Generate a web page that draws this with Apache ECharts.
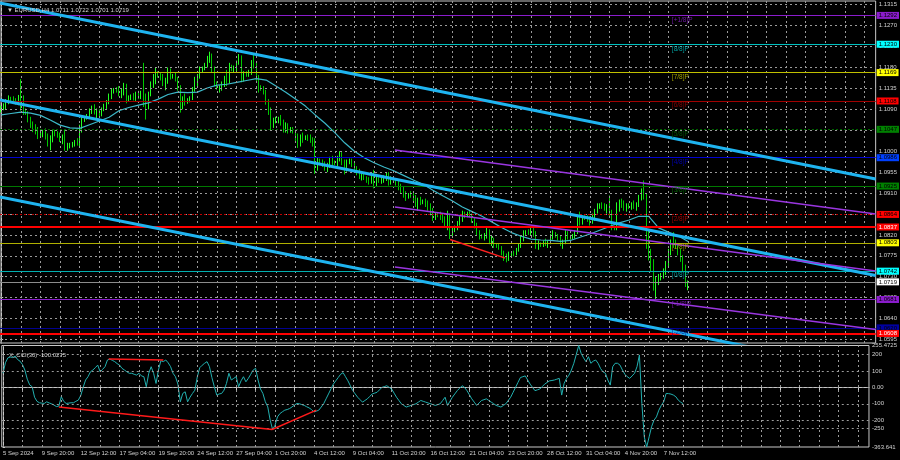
<!DOCTYPE html>
<html><head><meta charset="utf-8">
<script src="https://cdn.jsdelivr.net/npm/echarts@6/dist/echarts.min.js"></script>
<style>html,body{margin:0;padding:0;background:#000;}#c{width:900px;height:460px;}</style>
</head><body><div id="c"></div>
<script>
// ---------------- DATA ----------------
const chartTitle = 'EURUSD,H4 1.0711 1.0722 1.0701 1.0719';
const cciTitle = 'X_CCI(30) -100.0275';
const timeLabels = {0:'5 Sep 2024',16:'9 Sep 20:00',32:'12 Sep 12:00',48:'17 Sep 04:00',64:'19 Sep 20:00',80:'24 Sep 12:00',96:'27 Sep 04:00',112:'1 Oct 20:00',128:'4 Oct 12:00',144:'9 Oct 04:00',160:'11 Oct 20:00',176:'16 Oct 12:00',192:'21 Oct 04:00',208:'23 Oct 20:00',224:'28 Oct 12:00',240:'31 Oct 04:00',256:'4 Nov 20:00',272:'7 Nov 12:00'};
const priceTicks = [1.1315,1.1270,1.1225,1.1180,1.1135,1.1090,1.1045,1.1000,1.0955,1.0910,1.0865,1.0820,1.0775,1.0730,1.0685,1.0640,1.0595];
const cciTicks = [255.4725,200,100,0,-100,-200,-250,-363.641];
const cciTickText = ['255.4725','200','100','0.00','-100','-200','-250','-363.641'];
const cciGridLevels = [200,100,0,-100,-200,-250];
// [open, high, low, close] per H4 bar, from 5 Sep 2024 04:00
const ohlc = [
[1.1090,1.1098,1.1083,1.1094],[1.1094,1.1103,1.1088,1.1099],[1.1099,1.1112,1.1090,1.1107],[1.1107,1.1120,1.1101,1.1113],[1.1113,1.1117,1.1106,1.1110],
[1.1110,1.1118,1.1103,1.1108],[1.1108,1.1114,1.1100,1.1105],[1.1105,1.1121,1.1099,1.1116],[1.1116,1.1155,1.1087,1.1112],[1.1112,1.1120,1.1078,1.1086],[1.1086,1.1092,1.1078,1.1082],
[1.1082,1.1086,1.1062,1.1068],[1.1068,1.1074,1.1050,1.1058],[1.1058,1.1064,1.1041,1.1050],[1.1050,1.1058,1.1036,1.1044],[1.1044,1.1052,1.1026,1.1036],[1.1036,1.1042,1.1030,1.1038],
[1.1038,1.1046,1.1030,1.1042],[1.1042,1.1049,1.1025,1.1031],[1.1031,1.1038,1.1010,1.1018],[1.1018,1.1034,1.1002,1.1027],[1.1027,1.1045,1.1019,1.1039],[1.1039,1.1046,1.1032,1.1036],
[1.1036,1.1043,1.1029,1.1034],[1.1034,1.1040,1.1020,1.1025],[1.1025,1.1036,1.1015,1.1030],[1.1030,1.1047,1.1001,1.1008],[1.1008,1.1018,1.1001,1.1012],[1.1012,1.1018,1.1006,1.1013],
[1.1013,1.1020,1.1008,1.1016],[1.1016,1.1024,1.1010,1.1020],[1.1020,1.1028,1.1012,1.1018],[1.1018,1.1057,1.1010,1.1050],[1.1050,1.1075,1.1040,1.1070],[1.1070,1.1076,1.1063,1.1074],
[1.1074,1.1080,1.1068,1.1076],[1.1076,1.1092,1.1072,1.1088],[1.1088,1.1098,1.1080,1.1094],[1.1094,1.1101,1.1079,1.1083],[1.1083,1.1092,1.1070,1.1086],[1.1086,1.1090,1.1074,1.1078],
[1.1078,1.1094,1.1075,1.1090],[1.1090,1.1102,1.1086,1.1097],[1.1097,1.1110,1.1091,1.1106],[1.1106,1.1124,1.1101,1.1119],[1.1119,1.1135,1.1112,1.1128],[1.1128,1.1136,1.1124,1.1132],
[1.1132,1.1138,1.1126,1.1130],[1.1130,1.1140,1.1118,1.1124],[1.1124,1.1134,1.1114,1.1129],[1.1129,1.1147,1.1120,1.1141],[1.1141,1.1145,1.1103,1.1111],[1.1111,1.1120,1.1107,1.1116],
[1.1116,1.1122,1.1110,1.1118],[1.1118,1.1125,1.1109,1.1113],[1.1113,1.1128,1.1108,1.1124],[1.1124,1.1130,1.1112,1.1118],[1.1118,1.1130,1.1112,1.1124],[1.1124,1.1190,1.1095,1.1116],
[1.1116,1.1124,1.1068,1.1098],[1.1098,1.1128,1.1090,1.1122],[1.1122,1.1150,1.1118,1.1145],[1.1145,1.1166,1.1136,1.1150],[1.1150,1.1179,1.1144,1.1168],[1.1168,1.1172,1.1158,1.1161],
[1.1161,1.1168,1.1152,1.1160],[1.1160,1.1166,1.1140,1.1148],[1.1148,1.1158,1.1131,1.1153],[1.1153,1.1180,1.1145,1.1172],[1.1172,1.1178,1.1154,1.1160],[1.1160,1.1166,1.1156,1.1163],
[1.1163,1.1170,1.1150,1.1156],[1.1156,1.1160,1.1130,1.1136],[1.1136,1.1142,1.1083,1.1100],[1.1100,1.1118,1.1090,1.1112],[1.1112,1.1124,1.1098,1.1108],[1.1108,1.1114,1.1102,1.1110],
[1.1110,1.1118,1.1105,1.1114],[1.1114,1.1138,1.1110,1.1134],[1.1134,1.1160,1.1128,1.1152],[1.1152,1.1166,1.1140,1.1160],[1.1160,1.1182,1.1156,1.1176],[1.1176,1.1182,1.1170,1.1178],
[1.1178,1.1190,1.1174,1.1186],[1.1186,1.1205,1.1180,1.1198],[1.1198,1.1214,1.1190,1.1204],[1.1204,1.1210,1.1170,1.1176],[1.1176,1.1182,1.1140,1.1146],[1.1146,1.1150,1.1132,1.1134],
[1.1134,1.1142,1.1126,1.1138],[1.1138,1.1150,1.1130,1.1145],[1.1145,1.1162,1.1138,1.1156],[1.1156,1.1175,1.1140,1.1150],[1.1150,1.1190,1.1146,1.1180],[1.1180,1.1186,1.1172,1.1177],
[1.1177,1.1184,1.1170,1.1180],[1.1180,1.1195,1.1172,1.1190],[1.1190,1.1209,1.1186,1.1200],[1.1200,1.1206,1.1148,1.1156],[1.1156,1.1172,1.1150,1.1168],[1.1168,1.1172,1.1160,1.1164],
[1.1164,1.1175,1.1160,1.1170],[1.1170,1.1196,1.1164,1.1190],[1.1190,1.1209,1.1178,1.1182],[1.1182,1.1190,1.1150,1.1158],[1.1158,1.1164,1.1126,1.1136],[1.1136,1.1142,1.1130,1.1135],
[1.1135,1.1140,1.1122,1.1128],[1.1128,1.1132,1.1100,1.1106],[1.1106,1.1112,1.1078,1.1085],[1.1085,1.1094,1.1045,1.1058],[1.1058,1.1072,1.1050,1.1066],[1.1066,1.1074,1.1060,1.1067],
[1.1067,1.1074,1.1060,1.1070],[1.1070,1.1078,1.1055,1.1060],[1.1060,1.1068,1.1040,1.1048],[1.1048,1.1062,1.1040,1.1055],[1.1055,1.1060,1.1038,1.1044],[1.1044,1.1052,1.1040,1.1047],
[1.1047,1.1052,1.1038,1.1041],[1.1041,1.1046,1.1020,1.1026],[1.1026,1.1038,1.1007,1.1016],[1.1016,1.1036,1.1010,1.1030],[1.1030,1.1040,1.1018,1.1028],[1.1028,1.1034,1.1024,1.1031],
[1.1031,1.1036,1.1022,1.1030],[1.1030,1.1036,1.1018,1.1024],[1.1024,1.1030,1.1010,1.1015],[1.1015,1.1028,1.0951,1.0966],[1.0966,1.0986,1.0958,1.0980],[1.0980,1.0984,1.0970,1.0975],
[1.0975,1.0982,1.0966,1.0972],[1.0972,1.0978,1.0958,1.0964],[1.0964,1.0975,1.0955,1.0970],[1.0970,1.0988,1.0964,1.0982],[1.0982,1.0990,1.0970,1.0976],[1.0976,1.0980,1.0970,1.0974],
[1.0974,1.0990,1.0968,1.0985],[1.0985,1.1000,1.0978,1.0994],[1.0994,1.0998,1.0970,1.0976],[1.0976,1.0982,1.0950,1.0962],[1.0962,1.0982,1.0956,1.0978],[1.0978,1.0984,1.0972,1.0978],
[1.0978,1.0984,1.0966,1.0972],[1.0972,1.0978,1.0955,1.0960],[1.0960,1.0968,1.0948,1.0954],[1.0954,1.0962,1.0940,1.0946],[1.0946,1.0956,1.0937,1.0950],[1.0950,1.0953,1.0938,1.0940],
[1.0940,1.0946,1.0932,1.0938],[1.0938,1.0944,1.0928,1.0934],[1.0934,1.0952,1.0930,1.0946],[1.0946,1.0960,1.0920,1.0928],[1.0928,1.0948,1.0924,1.0940],[1.0940,1.0944,1.0932,1.0936],
[1.0936,1.0944,1.0930,1.0940],[1.0940,1.0948,1.0932,1.0944],[1.0944,1.0954,1.0936,1.0950],[1.0950,1.0955,1.0926,1.0932],[1.0932,1.0946,1.0928,1.0940],[1.0940,1.0944,1.0934,1.0937],
[1.0937,1.0942,1.0926,1.0930],[1.0930,1.0936,1.0916,1.0922],[1.0922,1.0930,1.0910,1.0918],[1.0918,1.0924,1.0900,1.0906],[1.0906,1.0914,1.0893,1.0902],[1.0902,1.0910,1.0898,1.0908],
[1.0908,1.0914,1.0900,1.0904],[1.0904,1.0912,1.0892,1.0898],[1.0898,1.0906,1.0880,1.0888],[1.0888,1.0900,1.0872,1.0896],[1.0896,1.0902,1.0884,1.0890],[1.0890,1.0896,1.0886,1.0892],
[1.0892,1.0898,1.0880,1.0886],[1.0886,1.0894,1.0872,1.0880],[1.0880,1.0888,1.0862,1.0870],[1.0870,1.0878,1.0850,1.0858],[1.0858,1.0868,1.0852,1.0864],[1.0864,1.0868,1.0858,1.0862],
[1.0862,1.0870,1.0852,1.0858],[1.0858,1.0866,1.0846,1.0852],[1.0852,1.0860,1.0836,1.0842],[1.0842,1.0872,1.0830,1.0860],[1.0860,1.0866,1.0811,1.0822],[1.0822,1.0836,1.0818,1.0832],
[1.0832,1.0840,1.0826,1.0836],[1.0836,1.0850,1.0830,1.0846],[1.0846,1.0860,1.0840,1.0854],[1.0854,1.0872,1.0848,1.0864],[1.0864,1.0870,1.0856,1.0862],[1.0862,1.0870,1.0858,1.0867],
[1.0867,1.0872,1.0858,1.0862],[1.0862,1.0866,1.0846,1.0850],[1.0850,1.0856,1.0834,1.0840],[1.0840,1.0846,1.0818,1.0824],[1.0824,1.0830,1.0810,1.0818],[1.0818,1.0822,1.0812,1.0816],
[1.0816,1.0824,1.0808,1.0820],[1.0820,1.0835,1.0812,1.0826],[1.0826,1.0832,1.0800,1.0806],[1.0806,1.0818,1.0796,1.0810],[1.0810,1.0814,1.0792,1.0798],[1.0798,1.0802,1.0792,1.0797],
[1.0797,1.0802,1.0788,1.0792],[1.0792,1.0796,1.0776,1.0780],[1.0780,1.0786,1.0764,1.0772],[1.0772,1.0780,1.0761,1.0768],[1.0768,1.0784,1.0764,1.0778],[1.0778,1.0784,1.0774,1.0781],
[1.0781,1.0786,1.0774,1.0780],[1.0780,1.0792,1.0776,1.0788],[1.0788,1.0802,1.0784,1.0798],[1.0798,1.0818,1.0792,1.0812],[1.0812,1.0830,1.0806,1.0824],[1.0824,1.0830,1.0820,1.0827],
[1.0827,1.0832,1.0820,1.0824],[1.0824,1.0836,1.0818,1.0830],[1.0830,1.0836,1.0816,1.0822],[1.0822,1.0828,1.0790,1.0798],[1.0798,1.0808,1.0788,1.0800],[1.0800,1.0804,1.0794,1.0797],
[1.0797,1.0808,1.0794,1.0804],[1.0804,1.0812,1.0796,1.0800],[1.0800,1.0808,1.0792,1.0804],[1.0804,1.0822,1.0800,1.0816],[1.0816,1.0830,1.0810,1.0824],[1.0824,1.0826,1.0814,1.0817],
[1.0817,1.0822,1.0808,1.0812],[1.0812,1.0818,1.0796,1.0802],[1.0802,1.0810,1.0790,1.0806],[1.0806,1.0830,1.0800,1.0824],[1.0824,1.0828,1.0810,1.0814],[1.0814,1.0820,1.0810,1.0816],
[1.0816,1.0822,1.0810,1.0818],[1.0818,1.0830,1.0812,1.0826],[1.0826,1.0862,1.0822,1.0856],[1.0856,1.0870,1.0840,1.0848],[1.0848,1.0862,1.0842,1.0858],[1.0858,1.0862,1.0852,1.0856],
[1.0856,1.0862,1.0848,1.0854],[1.0854,1.0860,1.0840,1.0848],[1.0848,1.0866,1.0844,1.0862],[1.0862,1.0876,1.0850,1.0870],[1.0870,1.0888,1.0866,1.0880],[1.0880,1.0888,1.0876,1.0884],
[1.0884,1.0890,1.0876,1.0882],[1.0882,1.0888,1.0872,1.0876],[1.0876,1.0886,1.0866,1.0878],[1.0878,1.0905,1.0860,1.0870],[1.0870,1.0874,1.0830,1.0836],[1.0836,1.0840,1.0830,1.0833],
[1.0833,1.0890,1.0830,1.0880],[1.0880,1.0896,1.0870,1.0890],[1.0890,1.0898,1.0878,1.0884],[1.0884,1.0894,1.0872,1.0880],[1.0880,1.0888,1.0870,1.0884],[1.0884,1.0888,1.0876,1.0881],
[1.0881,1.0890,1.0874,1.0886],[1.0886,1.0894,1.0876,1.0880],[1.0880,1.0890,1.0872,1.0884],[1.0884,1.0906,1.0880,1.0900],[1.0900,1.0920,1.0894,1.0914],[1.0914,1.0937,1.0896,1.0905],
[1.0905,1.0910,1.0790,1.0812],[1.0812,1.0830,1.0765,1.0778],[1.0778,1.0790,1.0740,1.0756],[1.0756,1.0768,1.0700,1.0712],[1.0712,1.0730,1.0682,1.0720],[1.0720,1.0736,1.0712,1.0730],
[1.0730,1.0738,1.0722,1.0734],[1.0734,1.0748,1.0726,1.0742],[1.0742,1.0764,1.0734,1.0756],[1.0756,1.0790,1.0750,1.0782],[1.0782,1.0810,1.0776,1.0804],[1.0804,1.0826,1.0792,1.0800],
[1.0800,1.0810,1.0790,1.0796],[1.0796,1.0800,1.0776,1.0784],[1.0784,1.0790,1.0762,1.0770],[1.0770,1.0776,1.0740,1.0748],[1.0748,1.0756,1.0708,1.0711],[1.0711,1.0722,1.0701,1.0719]
];
// moving average line (bar index, price)
const maPoints = [[0,1.1078],[4,1.1081],[8,1.1084],[12,1.1082],[16,1.1077],[20,1.1067],[24,1.1056],[28,1.1050],[32,1.1049],[36,1.1057],[40,1.1065],[44,1.1073],[48,1.1087],[52,1.1094],[56,1.1099],[60,1.1104],[64,1.1112],[68,1.1122],[72,1.1127],[76,1.1126],[80,1.1127],[84,1.1136],[88,1.1142],[92,1.1144],[96,1.1148],[100,1.1152],[104,1.1156],[108,1.1153],[112,1.1140],[116,1.1127],[120,1.1112],[124,1.1097],[128,1.1078],[132,1.1060],[136,1.1040],[140,1.1018],[144,1.1000],[148,1.0986],[152,1.0975],[156,1.0966],[160,1.0958],[164,1.0948],[168,1.0938],[172,1.0929],[176,1.0916],[180,1.0904],[184,1.0893],[188,1.0880],[192,1.0870],[196,1.0860],[200,1.0848],[204,1.0836],[208,1.0825],[212,1.0817],[216,1.0811],[220,1.0809],[224,1.0808],[228,1.0806],[232,1.0808],[236,1.0815],[240,1.0822],[244,1.0830],[248,1.0838],[252,1.0846],[256,1.0852],[260,1.0860],[264,1.0860],[268,1.0835],[272,1.0826],[276,1.0818],[280,1.0806]];
// CCI(30) per bar
const cci = [86,150,180,185,182,191,170,160,140,106,50,15,4,-60,-85,-94,-96,-98,-88,-95,-100,-108,-117,-114,-57,-85,-98,-96,-94,-94,-85,-78,-50,0,45,65,95,106,120,136,95,110,126,167,173,165,157,145,136,116,106,95,86,86,80,75,86,70,65,4,86,126,86,24,106,163,157,167,150,126,86,65,20,-88,-37,-27,-88,-60,-37,-17,65,120,135,147,157,126,60,4,-47,-40,-37,-17,24,86,45,55,65,4,40,65,34,55,80,106,116,45,-10,-37,-88,-119,-200,-257,-231,-180,-160,-149,-139,-135,-129,-119,-108,-98,
-100,-105,-110,-118,-125,-135,-150,-145,-139,-120,-100,-70,-40,-10,20,40,60,80,90,65,40,10,-20,-40,-60,-75,-90,-80,-70,-55,-40,-35,-30,-15,0,5,10,0,-10,-35,-60,-80,-100,-110,-120,-115,-110,-105,-100,-90,-80,-85,-90,-95,-100,-105,-110,-105,-100,-80,-60,-110,-85,-60,-40,-20,-5,10,0,-20,-45,-70,-90,-110,-95,-80,-75,-70,-80,-90,-100,-110,-115,-120,-110,-100,-80,-60,-30,0,30,60,65,70,45,20,0,-20,-15,-10,5,20,30,40,42,45,50,
55,-47,24,55,75,106,147,200,255,208,180,157,187,147,160,167,147,115,95,86,45,14,126,147,147,136,106,80,65,55,70,86,126,198,-98,-302,-363.6,-302,-240,-200,-180,-139,-110,-88,-37,-38,-41,-47,-57,-78,-90,-100.03];
// Murrey math / horizontal levels
const levelPrices = [1.1292,1.1230,1.1169,1.1108,1.1047,1.0986,1.0925,1.0864,1.0837,1.0803,1.0742,1.0719,1.0681,1.0620,1.0608];
const levelNames  = ['[+1/8]P','[8/8]P','[7/8]P','[6/8]P','[5/8]P','[4/8]P','[3/8]P','[2/8]P','','[1/8]P','[0/8]P','','[-1/8]P','[-2/8]P',''];
const levelNameBar = 273.4;
// trend channels [[barIndex, price], [barIndex, price]]
const blueChannel = [[[-0.5,1.13187],[356.5,1.09402]],[[-0.5,1.11101],[356.5,1.07326]],[[-0.5,1.09015],[356.5,1.05251]]];
const purpleChannel = [[[160.5,1.10025],[356.5,1.08649]],[[160.5,1.08799],[356.5,1.07423]],[[160.5,1.07509],[356.5,1.06165]]];
const priceDivergence = [[183,1.0810],[205.5,1.0770]];
const cciDivergence = [[[43.5,173],[66,167]],[[23,-119],[110.8,-257]],[[110.8,-257],[129,-139]]];

// ---------------- STYLE / BUILD ----------------
const NCAT = 357;
const cats = Array.from({length: NCAT}, (_, i) => String(i));
const FONT = '"Liberation Sans", Arial, sans-serif';
const GRIDC = '#9a9a9a';
const TXT = '#d2d2d2';
const levelStyles = [
 {c:'#8a1ccc', w:1, t:'solid', bg:'#8a1ccc', fg:'#000'},
 {c:'#00c0c0', w:1, t:'solid', bg:'#00ffff', fg:'#000'},
 {c:'#c0c000', w:1, t:'solid', bg:'#ffff00', fg:'#000'},
 {c:'#a00000', w:1, t:'solid', bg:'#ff0000', fg:'#000'},
 {c:'#006400', w:1, t:[2,2], bg:'#008000', fg:'#000'},
 {c:'#0000d0', w:1, t:'solid', bg:'#0040ff', fg:'#000'},
 {c:'#007800', w:1, t:'solid', bg:'#008000', fg:'#000'},
 {c:'#c00000', w:1, t:[2,2], bg:'#ff0000', fg:'#000'},
 {c:'#ff0000', w:2, t:'solid', bg:'#ff0000', fg:'#fff'},
 {c:'#b0b000', w:1, t:'solid', bg:'#ffff00', fg:'#000'},
 {c:'#00b0b0', w:1, t:'solid', bg:'#00ffff', fg:'#000'},
 {c:'#8c8c8c', w:1, t:'solid', bg:'#ffffff', fg:'#000'},
 {c:'#8a1ccc', w:1, t:'solid', bg:'#8a1ccc', fg:'#000'},
 {c:'#000090', w:1, t:'solid', bg:'#0000a0', fg:'#000'},
 {c:'#ff0000', w:2, t:'solid', bg:'#ff0000', fg:'#fff'}
];

const chart = echarts.init(document.getElementById('c'));
const vGrid = [];
for (let i = 0; i < NCAT; i += 8) vGrid.push(i);
const dashed = {color: GRIDC, width: 1, type: [2, 3]};

function segSeries(name, seg, xi, yi, color, width, z) {
  return {name, type: 'line', xAxisIndex: xi, yAxisIndex: yi, data: seg, symbol: 'none',
    lineStyle: {color, width}, z, silent: true, animation: false};
}

const series = [
  {type: 'line', xAxisIndex: 2, yAxisIndex: 0, data: [], silent: true, z: 1,
   markLine: {silent: true, symbol: 'none', precision: 8, animation: false, label: {show: false}, lineStyle: dashed,
     data: priceTicks.map(v => ({yAxis: v})).concat(vGrid.map(v => ({xAxis: v})))}},
  {type: 'line', xAxisIndex: 3, yAxisIndex: 1, data: [], silent: true, z: 1,
   markLine: {silent: true, symbol: 'none', precision: 8, animation: false, label: {show: false}, lineStyle: dashed,
     data: cciGridLevels.map(v => ({yAxis: v})).concat(vGrid.map(v => ({xAxis: v})))}},
  {type: 'line', xAxisIndex: 2, yAxisIndex: 0, data: [], silent: true, z: 2,
   markLine: {silent: true, symbol: 'none', precision: 8, animation: false,
     data: levelPrices.map((p, k) => ({yAxis: p,
       lineStyle: {color: levelStyles[k].c, width: levelStyles[k].w, type: levelStyles[k].t},
       label: {show: true, position: 'end', distance: 1, formatter: p.toFixed(4), color: levelStyles[k].fg,
         backgroundColor: levelStyles[k].bg, padding: [1, 2, 0, 2], fontSize: 6, fontFamily: FONT}}))}},
  {type: 'scatter', xAxisIndex: 2, yAxisIndex: 0, symbolSize: 0, z: 6, silent: true,
   data: levelPrices.map((p, k) => ({value: [levelNameBar, p],
     label: {show: levelNames[k] !== '', position: 'right', distance: 0, offset: [0, 4.5],
       formatter: levelNames[k], color: levelStyles[k].c,
       fontSize: 6.5, fontFamily: FONT}}))},
  {type: 'candlestick', xAxisIndex: 0, yAxisIndex: 0, z: 3, barWidth: 1.3, silent: true,
   data: ohlc.map(r => [r[0], r[3], r[2], r[1]]),
   itemStyle: {color: '#22ff22', color0: '#00c800', borderColor: '#22ff22', borderColor0: '#00c800', borderWidth: 1}},
  {type: 'line', xAxisIndex: 2, yAxisIndex: 0, data: maPoints, symbol: 'none', z: 4, silent: true,
   lineStyle: {color: '#3cb8c8', width: 1.2}},
  segSeries('div', priceDivergence, 2, 0, '#ff2020', 1.5, 5),
  {type: 'line', xAxisIndex: 1, yAxisIndex: 1, data: cci, symbol: 'none', z: 4, silent: true,
   lineStyle: {color: '#22b0b0', width: 1}}
];
blueChannel.forEach((s, k) => series.push(segSeries('b' + k, s, 2, 0, '#1fb4f0', 3, 5)));
purpleChannel.forEach((s, k) => series.push(segSeries('p' + k, s, 2, 0, '#9a36e0', 1.5, 5)));
cciDivergence.forEach((s, k) => series.push(segSeries('c' + k, s, 3, 1, '#ff1a1a', 1.5, 5)));

const option = {
  backgroundColor: '#000',
  animation: false,
  title: [
    {text: '\u25BC ' + chartTitle, left: 2, top: 2, textStyle: {color: TXT, fontSize: 6, fontWeight: 'normal', fontFamily: FONT}},
    {text: cciTitle, left: 4, top: 347, textStyle: {color: TXT, fontSize: 6, fontWeight: 'normal', fontFamily: FONT}}
  ],
  grid: [
    {left: 0, top: 1, width: 876, height: 342, show: true, borderColor: '#c8c8c8', borderWidth: 1, backgroundColor: 'transparent'},
    {left: 0, top: 345.5, width: 876, height: 101.5, show: true, borderColor: '#c8c8c8', borderWidth: 1, backgroundColor: 'transparent'}
  ],
  xAxis: [
    {type: 'category', gridIndex: 0, data: cats, boundaryGap: true, show: false},
    {type: 'category', gridIndex: 1, data: cats, boundaryGap: true,
     axisLine: {show: true, lineStyle: {color: '#c8c8c8'}},
     axisTick: {show: true, alignWithLabel: true, length: 3, interval: (i) => i % 8 === 0, lineStyle: {color: '#c8c8c8'}},
     axisLabel: {show: true, interval: (i) => timeLabels[i] !== undefined, formatter: (v, i) => timeLabels[i] || '',
       align: 'left', margin: 3, color: TXT, fontSize: 6, fontFamily: FONT},
     splitLine: {show: false}},
    {type: 'value', gridIndex: 0, min: -0.5, max: 356.5, show: false},
    {type: 'value', gridIndex: 1, min: -0.5, max: 356.5, show: false}
  ],
  yAxis: [
    {type: 'value', gridIndex: 0, position: 'right', min: 1.05875, max: 1.1323, scale: true,
     axisLine: {show: true, lineStyle: {color: '#c8c8c8'}},
     axisTick: {show: true, length: 2, customValues: priceTicks, lineStyle: {color: '#c8c8c8'}},
     axisLabel: {show: true, customValues: priceTicks, formatter: v => v.toFixed(4), margin: 3, color: TXT, fontSize: 6, fontFamily: FONT},
     splitLine: {show: false}},
    {type: 'value', gridIndex: 1, position: 'right', min: -363.641, max: 255.4725,
     axisLine: {show: true, lineStyle: {color: '#c8c8c8'}},
     axisTick: {show: true, length: 2, customValues: cciTicks, lineStyle: {color: '#c8c8c8'}},
     axisLabel: {show: true, customValues: cciTicks, formatter: v => {const k = cciTicks.findIndex(t => Math.abs(t - v) < 1e-6); return k >= 0 ? cciTickText[k] : '';},
       margin: 3, color: TXT, fontSize: 6, fontFamily: FONT},
     splitLine: {show: false}}
  ],
  series
};
chart.setOption(option);
</script>
</body></html>
